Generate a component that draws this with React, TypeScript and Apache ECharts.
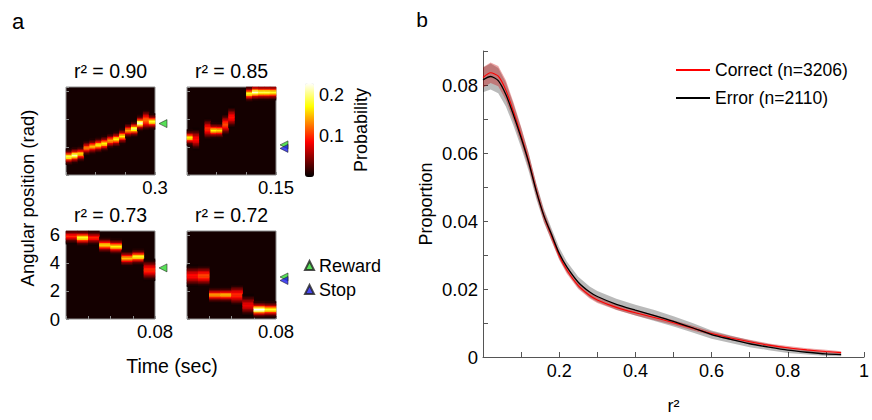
import React, { useEffect, useRef } from 'react';
import * as echarts from 'echarts';

const FONT = '"Liberation Sans", Arial, Helvetica, sans-serif';

// ---------------- Panel a : decoded position heatmaps ----------------
const POS_BINS = 60;
const TWO_PI = 2 * Math.PI;
const panelTitles = ['r\u00B2 = 0.90', 'r\u00B2 = 0.85', 'r\u00B2 = 0.73', 'r\u00B2 = 0.72'];
const panelDurations = [0.3, 0.15, 0.08, 0.08];
const panelTickSteps = [0.1, 0.05, 0.02, 0.02];

// per time bin: bump centre (rad), peak probability, wide (1) / narrow (0) bump
const p1Centers = [1.30, 1.37, 1.54, 1.89, 2.01, 2.18, 2.30, 2.42, 2.56, 2.80, 3.20, 3.32, 3.67, 3.91, 3.84];
const p1Peaks = [0.19, 0.21, 0.16, 0.13, 0.15, 0.17, 0.17, 0.14, 0.17, 0.17, 0.14, 0.20, 0.22, 0.12, 0.18];
const p1Wide = [0, 0, 0, 0, 0, 0, 0, 0, 0, 0, 0, 0, 0, 1, 0];

const p2Centers = [2.72, 2.61, 0, 3.32, 3.20, 3.20, 3.60, 4.15, 0, 0, 5.86, 5.88, 5.90, 5.95, 5.96];
const p2Peaks = [0.17, 0.09, 0, 0.10, 0.17, 0.16, 0.11, 0.09, 0, 0, 0.18, 0.22, 0.19, 0.19, 0.18];
const p2Wide = [0, 1, 0, 1, 0, 0, 1, 1, 0, 0, 0, 0, 0, 0, 0];

const p3Centers = [5.88, 5.85, 5.80, 5.29, 5.17, 4.31, 4.45, 3.56];
const p3Peaks = [0.10, 0.18, 0.10, 0.16, 0.17, 0.15, 0.18, 0.10];
const p3Wide = [0, 0, 0, 0, 0, 0, 0, 1];

const p4Centers = [3.08, 3.04, 1.78, 1.71, 1.78, 0.95, 0.66, 0.71];
const p4Peaks = [0.09, 0.11, 0.14, 0.15, 0.10, 0.08, 0.23, 0.18];
const p4Wide = [1, 1, 0, 0, 1, 1, 0, 0];

// relative intensity of a bump around its centre bin
const narrowProfile = [0.06, 0.15, 0.3, 0.55, 0.85, 1, 0.85, 0.55, 0.3, 0.15, 0.06];
const wideProfile = [0.06, 0.14, 0.27, 0.45, 0.64, 0.82, 0.95, 1, 0.95, 0.82, 0.64, 0.45, 0.27, 0.14, 0.06];

const rewardPositions = [3.67, 2.15, 3.65, 3.0];
const stopPositions = [null, 1.9, null, 2.75];

const angleTicks = [0, 2, 4, 6];
const colorbarMax = 0.23;
const colorbarTicks = [0.1, 0.2];
const hotColors = ['#000000', '#550000', '#aa0000', '#ff0000', '#ff5500', '#ffaa00', '#ffff00', '#ffff80', '#ffffff'];

// ---------------- Panel b : r^2 distributions ----------------
const r2Grid = [0, 0.02, 0.04, 0.06, 0.08, 0.10, 0.12, 0.14, 0.16, 0.18, 0.20, 0.22, 0.25, 0.28, 0.30, 0.35, 0.40, 0.45, 0.50, 0.55, 0.60, 0.65, 0.70, 0.75, 0.80, 0.85, 0.90, 0.94];
const correctMean = [0.0822, 0.0836, 0.0826, 0.0785, 0.0722, 0.0652, 0.0577, 0.0490, 0.0414, 0.0355, 0.0298, 0.0256, 0.0210, 0.0181, 0.0168, 0.0146, 0.0130, 0.0116, 0.0101, 0.0085, 0.0069, 0.0056, 0.0045, 0.0035, 0.0027, 0.0021, 0.0016, 0.0013];
const correctErr = [0.0030, 0.0030, 0.0030, 0.0029, 0.0027, 0.0025, 0.0022, 0.0019, 0.0016, 0.0014, 0.0012, 0.0011, 0.0010, 0.0009, 0.0009, 0.0008, 0.0008, 0.0008, 0.0007, 0.0007, 0.0006, 0.0006, 0.0006, 0.0005, 0.0005, 0.0005, 0.0005, 0.0004];
const errorMean = [0.0815, 0.0825, 0.0813, 0.0772, 0.0712, 0.0645, 0.0572, 0.0487, 0.0415, 0.0360, 0.0305, 0.0265, 0.0220, 0.0191, 0.0178, 0.0155, 0.0138, 0.0122, 0.0105, 0.0086, 0.0066, 0.0052, 0.0039, 0.0029, 0.0020, 0.0014, 0.0009, 0.0007];
const errorErr = [0.0036, 0.0038, 0.0037, 0.0035, 0.0032, 0.0029, 0.0026, 0.0023, 0.0020, 0.0018, 0.0017, 0.0016, 0.0016, 0.0016, 0.0016, 0.0016, 0.0016, 0.0016, 0.0015, 0.0014, 0.0012, 0.0011, 0.0010, 0.0009, 0.0008, 0.0007, 0.0006, 0.0005];
const seriesNames = ['Correct (n=3206)', 'Error (n=2110)'];
const yTickLabels = [0, 0.02, 0.04, 0.06, 0.08];
const xTickLabels = [0.2, 0.4, 0.6, 0.8, 1];

function buildCells(centers: number[], peaks: number[], wide: number[]) {
  const cells: number[][] = [];
  const binW = TWO_PI / POS_BINS;
  centers.forEach((c, t) => {
    if (!peaks[t]) return;
    const prof = wide[t] ? wideProfile : narrowProfile;
    const half = (prof.length - 1) / 2;
    const cb = Math.floor(c / binW);
    prof.forEach((w, k) => {
      const b = cb + k - half;
      if (b >= 0 && b < POS_BINS) cells.push([t, b, +(peaks[t] * w).toFixed(4)]);
    });
  });
  return cells;
}

const SMOOTH = 0.25;

function bandSeries(mean: number[], err: number[], fill: string, z: number) {
  const data = r2Grid.map((x, i) => [x, +(mean[i] - err[i]).toFixed(5), +(mean[i] + err[i]).toFixed(5)]);
  return {
    type: 'custom', xAxisIndex: 9, yAxisIndex: 9, silent: true, z, clip: true,
    encode: { x: 0, y: [1, 2] },
    data,
    renderItem: (params: any, api: any) => {
      if (params.dataIndex !== 0) return null;
      const upper = data.map((d) => api.coord([d[0], d[2]]));
      const lower = data.map((d) => api.coord([d[0], d[1]])).reverse();
      return {
        type: 'polygon',
        shape: { points: upper.concat(lower) },
        style: { fill, stroke: 'none' },
      };
    },
  };
}

function buildOption() {
  const panels = [
    { centers: p1Centers, peaks: p1Peaks, wide: p1Wide },
    { centers: p2Centers, peaks: p2Peaks, wide: p2Wide },
    { centers: p3Centers, peaks: p3Peaks, wide: p3Wide },
    { centers: p4Centers, peaks: p4Peaks, wide: p4Wide },
  ];
  const gridPos = [
    { left: 66, top: 87 },
    { left: 187, top: 87 },
    { left: 66, top: 231 },
    { left: 187, top: 231 },
  ];
  const grids: any[] = [];
  const xAxes: any[] = [];
  const yAxes: any[] = [];
  const series: any[] = [];
  const titles: any[] = [];
  const posCats = Array.from({ length: POS_BINS }, (_, i) => String(i));

  panels.forEach((p, k) => {
    const dur = panelDurations[k];
    grids.push({
      left: gridPos[k].left, top: gridPos[k].top, width: 89, height: 88,
      show: true, backgroundColor: '#140000', borderColor: '#8c8c8c', borderWidth: 1,
    });
    xAxes.push({ gridIndex: k, type: 'category', data: p.centers.map((_, i) => String(i)), show: false });
    xAxes.push({
      gridIndex: k, type: 'value', position: 'bottom', min: 0, max: dur, interval: panelTickSteps[k],
      axisLine: { show: false }, splitLine: { show: false },
      axisTick: { show: true, inside: true, length: 3, lineStyle: { color: '#8c8c8c' } },
      axisLabel: {
        fontSize: 18.5, color: '#000', fontFamily: FONT, margin: 3,
        formatter: (v: number) => (Math.abs(v - dur) < 1e-9 ? String(dur) : ''),
      },
    });
    yAxes.push({ gridIndex: k, type: 'category', data: posCats, show: false });
    yAxes.push({
      gridIndex: k, type: 'value', position: 'left', min: 0, max: TWO_PI, interval: 2,
      axisLine: { show: false }, splitLine: { show: false },
      axisTick: { show: true, inside: true, length: 3, lineStyle: { color: '#8c8c8c' } },
      axisLabel: {
        show: k === 2, fontSize: 18.5, color: '#000', fontFamily: FONT, margin: 6,
        formatter: (v: number) => {
          const r = Math.round(v);
          return Math.abs(v - r) < 1e-6 && angleTicks.includes(r) ? String(r) : '';
        },
      },
    });
    series.push({
      type: 'heatmap', xAxisIndex: 2 * k, yAxisIndex: 2 * k,
      data: buildCells(p.centers, p.peaks, p.wide), silent: true, progressive: 0,
      itemStyle: { borderWidth: 0 },
    });
    titles.push({
      text: panelTitles[k], left: gridPos[k].left + 44.5, top: gridPos[k].top - 26, textAlign: 'center',
      padding: 0,
      textStyle: { fontSize: 19.5, fontWeight: 'normal', color: '#000', fontFamily: FONT },
    });
  });

  // reward / stop markers
  panels.forEach((_, k) => {
    const dur = panelDurations[k];
    series.push({
      type: 'scatter', name: 'Reward', xAxisIndex: 2 * k + 1, yAxisIndex: 2 * k + 1,
      data: [[dur, rewardPositions[k]]], symbol: 'triangle', symbolSize: 8, symbolRotate: 90,
      symbolOffset: [8, 0], clip: false, silent: true, z: 5,
      itemStyle: { color: '#2ed82e', borderColor: '#222', borderWidth: 0.7 },
    });
    if (stopPositions[k] != null) {
      series.push({
        type: 'scatter', name: 'Stop', xAxisIndex: 2 * k + 1, yAxisIndex: 2 * k + 1,
        data: [[dur, stopPositions[k]]], symbol: 'triangle', symbolSize: 8, symbolRotate: 90,
        symbolOffset: [8, 0], clip: false, silent: true, z: 6,
        itemStyle: { color: '#1a1aee', borderColor: '#222', borderWidth: 0.7 },
      });
    }
  });

  // colorbar axis (grid 4)
  grids.push({ left: 305, top: 83, width: 9, height: 94, show: false });
  xAxes.push({ gridIndex: 4, type: 'value', min: 0, max: 1, show: false });
  yAxes.push({
    gridIndex: 4, type: 'value', min: 0, max: colorbarMax, interval: 0.1, position: 'right',
    axisLine: { show: false }, axisTick: { show: false }, splitLine: { show: false },
    axisLabel: {
      fontSize: 18, color: '#000', fontFamily: FONT, margin: 5,
      formatter: (v: number) => (colorbarTicks.some((t) => Math.abs(t - v) < 1e-6) ? v.toFixed(1) : ''),
    },
    name: 'Probability', nameLocation: 'middle', nameRotate: 90, nameGap: 38,
    nameTextStyle: { fontSize: 18, color: '#000', fontFamily: FONT },
  });

  // panel b (grid 5)
  const axisColor = '#555';
  grids.push({ left: 483, top: 51, right: -1, bottom: 60.5 });
  xAxes.push({
    gridIndex: 5, type: 'value', min: 0, max: 1, interval: 0.1,
    axisLine: { show: true, lineStyle: { color: axisColor, width: 1 } },
    axisTick: { show: true, inside: true, length: 5, lineStyle: { color: axisColor } },
    splitLine: { show: false },
    axisLabel: {
      fontSize: 18, color: '#000', fontFamily: FONT, margin: 5,
      formatter: (v: number) => {
        const hit = xTickLabels.find((t) => Math.abs(t - v) < 1e-6);
        return hit === undefined ? '' : hit === 1 ? '1' : hit.toFixed(1);
      },
    },
    name: 'r\u00B2', nameLocation: 'middle', nameGap: 40,
    nameTextStyle: { fontSize: 18, color: '#000', fontFamily: FONT },
  });
  yAxes.push({
    gridIndex: 5, type: 'value', min: 0, max: 0.09, interval: 0.01,
    axisLine: { show: true, lineStyle: { color: axisColor, width: 1 } },
    axisTick: { show: true, inside: true, length: 5, lineStyle: { color: axisColor } },
    splitLine: { show: false },
    axisLabel: {
      fontSize: 18.5, color: '#000', fontFamily: FONT, margin: 5,
      formatter: (v: number) => {
        const hit = yTickLabels.find((t) => Math.abs(t - v) < 1e-6);
        return hit === undefined ? '' : hit === 0 ? '0' : hit.toFixed(2);
      },
    },
    name: 'Proportion', nameLocation: 'middle', nameGap: 48,
    nameTextStyle: { fontSize: 18, color: '#000', fontFamily: FONT },
  });

  const pairs = (ys: number[]) => r2Grid.map((x, i) => [x, ys[i]]);
  series.push(bandSeries(errorMean, errorErr, 'rgba(0,0,0,0.27)', 2));
  series.push(bandSeries(correctMean, correctErr, 'rgba(200,0,0,0.35)', 2));
  series.push({
    type: 'line', name: seriesNames[0], xAxisIndex: 9, yAxisIndex: 9, data: pairs(correctMean),
    symbol: 'none', smooth: SMOOTH, lineStyle: { color: '#ff0000', width: 1.1 }, itemStyle: { color: '#ff0000' }, z: 3,
  });
  series.push({
    type: 'line', name: seriesNames[1], xAxisIndex: 9, yAxisIndex: 9, data: pairs(errorMean),
    symbol: 'none', smooth: SMOOTH, lineStyle: { color: '#000000', width: 1.3 }, itemStyle: { color: '#000000' }, z: 4,
  });

  return {
    animation: false,
    textStyle: { fontFamily: FONT },
    title: titles,
    grid: grids,
    xAxis: xAxes,
    yAxis: yAxes,
    visualMap: [{
      type: 'continuous', seriesIndex: [0, 1, 2, 3], min: 0, max: colorbarMax,
      inRange: { color: hotColors }, left: 305, top: 83, itemWidth: 9, itemHeight: 94,
      padding: 0, calculable: false, orient: 'vertical', hoverLink: false,
    }],
    legend: [
      {
        data: ['Reward', 'Stop'], orient: 'vertical', left: 304, top: 256.5, icon: 'triangle', padding: 0,
        itemWidth: 9, itemHeight: 9, itemGap: 6, symbolRotate: 0, selectedMode: false,
        textStyle: { fontSize: 18, color: '#000', fontFamily: FONT },
      },
      {
        data: seriesNames, orient: 'vertical', left: 676, top: 61, icon: 'rect', padding: 0,
        itemWidth: 34, itemHeight: 2, itemGap: 10, selectedMode: false,
        textStyle: { fontSize: 17.5, color: '#000', fontFamily: FONT },
      },
    ],
    graphic: [
      { type: 'text', x: 18, y: 21, style: { text: 'a', fontSize: 22, fontFamily: FONT, fill: '#000', align: 'center', verticalAlign: 'middle' } },
      { type: 'text', x: 422, y: 19, style: { text: 'b', fontSize: 21, fontFamily: FONT, fill: '#000', align: 'center', verticalAlign: 'middle' } },
      { type: 'text', x: 27, y: 198, rotation: Math.PI / 2, style: { text: 'Angular position (rad)', fontSize: 18.5, fontFamily: FONT, fill: '#000', align: 'center', verticalAlign: 'middle' } },
      { type: 'text', x: 172, y: 366, style: { text: 'Time (sec)', fontSize: 19.5, fontFamily: FONT, fill: '#000', align: 'center', verticalAlign: 'middle' } },
    ],
    series,
  };
}

export default function App() {
  const ref = useRef<HTMLDivElement>(null);
  useEffect(() => {
    if (!ref.current) return;
    const chart = echarts.init(ref.current, null, { renderer: 'svg' });
    chart.setOption(buildOption() as any);
    return () => chart.dispose();
  }, []);
  return (
    <div
      ref={ref}
      style={{ position: 'absolute', left: 0, top: 0, width: 872, height: 420, background: '#fff' }}
    />
  );
}
